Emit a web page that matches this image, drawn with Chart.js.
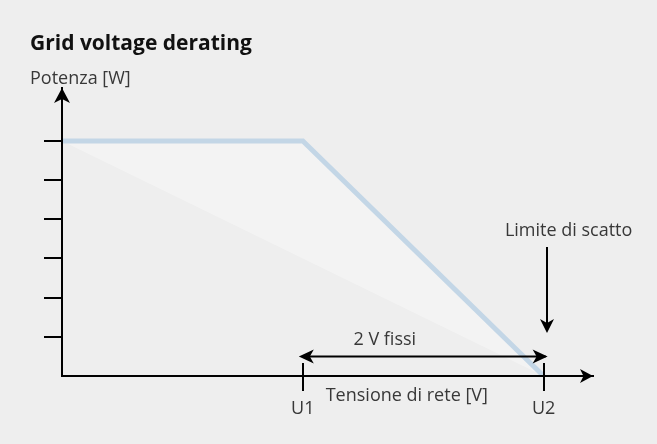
<!DOCTYPE html>
<html><head><meta charset="utf-8">
<script src="https://cdn.jsdelivr.net/npm/chart.js@4"></script>
<style>html,body{margin:0;padding:0;background:#eeeeee;overflow:hidden;} canvas{display:block;}</style>
</head><body>
<canvas id="c" width="657" height="444"></canvas>
<script>
// ---- data ----
const xTickValues = [2, 4];            // U1, U2
const xTickLabels = ['U1', 'U2'];
const yTickValues = [1, 2, 3, 4, 5, 6];
const deratingX = [0, 2, 4];
const deratingY = [6, 6, 0];
const baseX = [0, 4];
const baseY = [6, 0];
const texts = {
  title: 'Grid voltage derating',
  yTitle: 'Potenza [W]',
  xTitle: 'Tensione di rete [V]',
  span: '2 V fissi',
  limit: 'Limite di scatto'
};

const FONT = "'Open Sans', 'Noto Sans', sans-serif";
const TXT = '#383838';

function arrow(ctx, x, y, angle, len, half, notch) {
  ctx.save();
  ctx.translate(x, y);
  ctx.rotate(angle);
  ctx.beginPath();
  ctx.moveTo(0, 0);
  ctx.lineTo(-len, -half);
  ctx.lineTo(-len + notch, 0);
  ctx.lineTo(-len, half);
  ctx.closePath();
  ctx.fill();
  ctx.restore();
}

const annot = {
  id: 'annot',
  afterDraw(chart) {
    const { ctx, chartArea: ca, scales: { x, y } } = chart;
    ctx.save();
    ctx.fillStyle = '#000';
    ctx.strokeStyle = '#000';
    ctx.lineWidth = 2;
    // axis arrowheads
    arrow(ctx, ca.left, ca.top, -Math.PI / 2, 15, 8, 4);
    arrow(ctx, ca.right, ca.bottom, 0, 13, 7, 3.5);
    // upper part of U1/U2 tick marks
    xTickValues.forEach(v => {
      const px = Math.round(x.getPixelForValue(v));
      ctx.beginPath();
      ctx.moveTo(px, ca.bottom);
      ctx.lineTo(px, ca.bottom - 13);
      ctx.stroke();
    });
    // span double arrow U1 -> U2
    const u1 = x.getPixelForValue(xTickValues[0]);
    const u2 = x.getPixelForValue(xTickValues[1]);
    const ys = Math.round(y.getPixelForValue(0.5)) + 0.5;
    ctx.beginPath();
    ctx.moveTo(u1, ys);
    ctx.lineTo(u2 + 2, ys);
    ctx.stroke();
    arrow(ctx, u1 - 4, ys, Math.PI, 15, 7, 4);
    arrow(ctx, u2 + 4, ys, 0, 15, 7, 4);
    // limit arrow
    const lx = Math.round(u2 + 3);
    ctx.beginPath();
    ctx.moveTo(lx, ca.bottom - 129);
    ctx.lineTo(lx, ca.bottom - 50);
    ctx.stroke();
    arrow(ctx, lx, ca.bottom - 43, Math.PI / 2, 14, 7, 4);

    // texts
    ctx.fillStyle = TXT;
    ctx.font = `18px ${FONT}`;
    ctx.textBaseline = 'middle';
    ctx.textAlign = 'left';
    ctx.fillText(texts.yTitle, 30, 79);
    ctx.textAlign = 'center';
    ctx.fillText(texts.span, u1 + 82, ca.bottom - 36);
    ctx.fillText(texts.limit, u2 + 25, ca.bottom - 145);
    ctx.fillText(texts.xTitle, u1 + 104, ca.bottom + 20);
    ctx.restore();
  }
};

new Chart(document.getElementById('c'), {
  type: 'line',
  data: {
    datasets: [
      {
        data: deratingX.map((v, i) => ({ x: v, y: deratingY[i] })),
        borderColor: '#c3d6e6',
        borderWidth: 5,
        pointRadius: 0,
        tension: 0,
        fill: { target: 1 },
        backgroundColor: 'rgba(255,255,255,0.32)'
      },
      {
        data: baseX.map((v, i) => ({ x: v, y: baseY[i] })),
        borderColor: 'transparent',
        borderWidth: 0,
        pointRadius: 0,
        fill: false
      }
    ]
  },
  options: {
    responsive: false,
    animation: false,
    layout: { padding: { left: 30, right: 64, top: 0, bottom: 0 } },
    plugins: {
      legend: { display: false },
      tooltip: { enabled: false },
      title: {
        display: true,
        text: texts.title,
        align: 'start',
        color: '#111111',
        font: { family: FONT, size: 21, weight: 'bold', lineHeight: 1.2 },
        padding: { top: 31.4, bottom: 31.4 }
      }
    },
    scales: {
      x: {
        type: 'linear',
        min: 0,
        max: 4.41,
        afterBuildTicks: s => { s.ticks = xTickValues.map(v => ({ value: v })); },
        afterFit: s => { s.height = 68; },
        ticks: {
          callback: (v, i) => xTickLabels[i],
          color: TXT,
          font: { family: FONT, size: 18 },
          padding: 7,
          maxRotation: 0,
          autoSkip: false
        },
        grid: { drawOnChartArea: false, drawTicks: true, tickLength: 15, color: '#000', lineWidth: 2, z: 1 },
        border: { display: true, color: '#000', width: 2, z: 1 }
      },
      y: {
        type: 'linear',
        min: 0,
        max: 7.35,
        afterBuildTicks: s => { s.ticks = yTickValues.map(v => ({ value: v })); },
        afterFit: s => { s.width = 32; },
        ticks: { display: false },
        grid: { drawOnChartArea: false, drawTicks: true, tickLength: 18, color: '#000', lineWidth: 2, z: 1 },
        border: { display: true, color: '#000', width: 2, z: 1 }
      }
    }
  },
  plugins: [annot]
});
</script>
</body></html>
